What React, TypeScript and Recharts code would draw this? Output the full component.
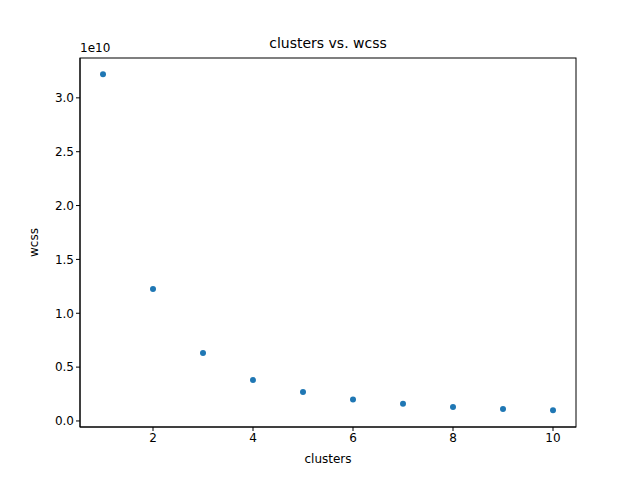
import React from 'react'
import { ScatterChart, Scatter, XAxis, YAxis, Label } from 'recharts'

const clusters = [1, 2, 3, 4, 5, 6, 7, 8, 9, 10]
// wcss in units of 1e10
const wcss = [3.22, 1.225, 0.63, 0.38, 0.27, 0.2, 0.16, 0.13, 0.11, 0.1]
const xTicks = [2, 4, 6, 8, 10]
const yTicks = [0, 0.5, 1, 1.5, 2, 2.5, 3]

const data = clusters.map((c, i) => ({ clusters: c, wcss: wcss[i] }))

const font = 'DejaVu Sans'
const tickStyle = { fontSize: 12, fill: '#000', fontFamily: font }

const Dot = (props: any) => <circle cx={props.cx} cy={props.cy} r={3} fill="#1f77b4" />

export default function App() {
  return (
    <div style={{ position: 'absolute', left: 0, top: 0, width: 640, height: 480, background: '#fff' }}>
      <ScatterChart width={640} height={480} margin={{ top: 58, right: 64, bottom: 13, left: 20 }}>
        <text x={328} y={48} textAnchor="middle" fontSize={14} fontFamily={font}>clusters vs. wcss</text>
        <text x={80} y={52} fontSize={12} fontFamily={font}>1e10</text>
        <XAxis
          type="number"
          dataKey="clusters"
          domain={[0.54, 10.46]}
          ticks={xTicks}
          height={40}
          tick={tickStyle}
          stroke="#000"
          tickSize={4}
        >
          <Label value="clusters" position="insideBottom" offset={4} style={{ fontSize: 12, fill: '#000', fontFamily: font }} />
        </XAxis>
        <YAxis
          type="number"
          dataKey="wcss"
          domain={[-0.056, 3.37]}
          ticks={yTicks}
          width={60}
          tick={tickStyle}
          tickFormatter={(v: number) => v.toFixed(1)}
          stroke="#000"
          tickSize={4}
        >
          <Label value="wcss" angle={-90} position="insideLeft" offset={14} style={{ fontSize: 12, fill: '#000', fontFamily: font, textAnchor: 'middle' }} />
        </YAxis>
        <Scatter data={data} shape={<Dot />} isAnimationActive={false} />
      </ScatterChart>
      <svg width={640} height={480} style={{ position: 'absolute', left: 0, top: 0, pointerEvents: 'none' }}>
        <rect x={80} y={58} width={496} height={369} fill="none" stroke="#000" strokeWidth={1} />
      </svg>
    </div>
  )
}
